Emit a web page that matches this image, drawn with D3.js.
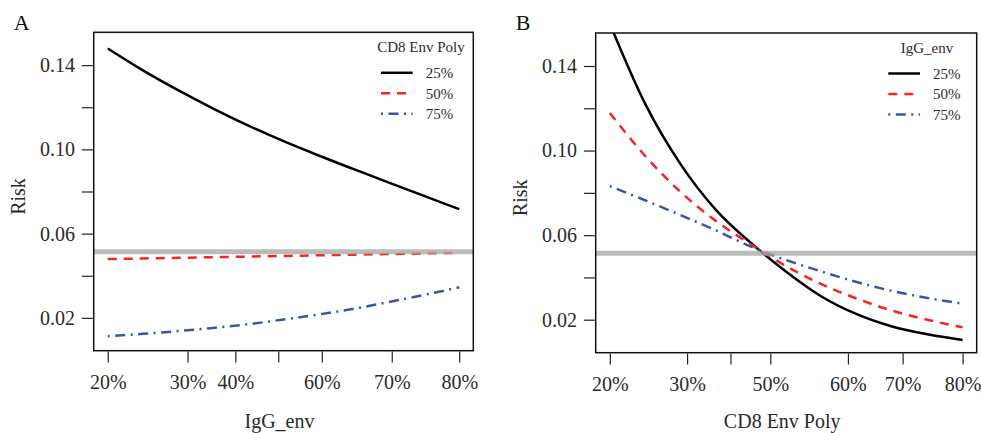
<!DOCTYPE html>
<html>
<head>
<meta charset="utf-8">
<script src="https://cdn.jsdelivr.net/npm/d3@7"></script>
<style>
  body { margin: 0; background: #fff; }
  svg { font-family: "Liberation Serif", "Times New Roman", serif; }
</style>
</head>
<body>
<svg id="chart" width="981" height="433"></svg>
<script>
// x positions on the (rescaled) marker scale, 0 = 20th pct, 1 = 80th pct
const xs = [0, 0.1, 0.2, 0.3, 0.4, 0.5, 0.6, 0.7, 0.8, 0.9, 1.0];

// panel A: risk vs IgG_env, one curve per CD8 Env Poly percentile
const riskA25 = [0.1479, 0.1375, 0.1281, 0.1194, 0.1113, 0.1039, 0.0971, 0.0906, 0.0842, 0.0779, 0.0716];
const riskA50 = [0.0479, 0.0482, 0.0485, 0.0488, 0.0491, 0.0494, 0.0497, 0.0500, 0.0503, 0.0506, 0.0509];
const riskA75 = [0.0113, 0.0124, 0.0137, 0.0152, 0.0170, 0.0192, 0.0216, 0.0243, 0.0275, 0.0309, 0.0345];

// panel B: risk vs CD8 Env Poly, one curve per IgG_env percentile
const riskB25 = [0.160, 0.1222, 0.0937, 0.0721, 0.0563, 0.0427, 0.0310, 0.0226, 0.0168, 0.0131, 0.0104];
const riskB50 = [0.1178, 0.0975, 0.0805, 0.0668, 0.0556, 0.0453, 0.0368, 0.0300, 0.0243, 0.0200, 0.0164];
const riskB75 = [0.0832, 0.0765, 0.0695, 0.0623, 0.0546, 0.0482, 0.0428, 0.0378, 0.0336, 0.0303, 0.0276];

const overallRisk = 0.0514;

// percentile ticks (blank label = dropped by overlap in the original)
const iggTickPos = [0, 0.227, 0.363, 0.485, 0.609, 0.808, 1.0];
const iggTickLabels = ["20%", "30%", "40%", "", "60%", "70%", "80%"];
const cd8TickPos = [0, 0.219, 0.342, 0.455, 0.675, 0.830, 1.0];
const cd8TickLabels = ["20%", "30%", "", "50%", "60%", "70%", "80%"];

const yTicks = [0.02, 0.04, 0.06, 0.08, 0.10, 0.12, 0.14];
const yTickLabels = ["0.02", "", "0.06", "", "0.10", "", "0.14"];

const legendLabels = ["25%", "50%", "75%"];
const seriesStyle = [
    { color: "#000000", dash: null },
    { color: "#f52525", dash: "9,7" },
    { color: "#3a55a8", dash: "2,5.5,10,5.5" }
];

const panels = [
    { letter: "A", left: 93.7, right: 473.3, top: 32.3, bottom: 350.7,
      xTitle: "IgG_env", legendTitle: "CD8 Env Poly",
      tickPos: iggTickPos, tickLabels: iggTickLabels,
      series: [riskA25, riskA50, riskA75],
      legOff: 92.3, titleOff: 52.3 },
    { letter: "B", left: 595.7, right: 976.7, top: 33, bottom: 352.7,
      xTitle: "CD8 Env Poly", legendTitle: "IgG_env",
      tickPos: cd8TickPos, tickLabels: cd8TickLabels,
      series: [riskB25, riskB50, riskB75],
      legOff: 88.4, titleOff: 49.7 }
];

const svg = d3.select("#chart");
const textColor = "#2a2a2a";

panels.forEach((p, pi) => {
    const g = svg.append("g");

    const x = d3.scaleLinear().domain([-0.04, 1.04]).range([p.left, p.right]);
    const y = d3.scaleLinear().domain([0.0044, 0.1556]).range([p.bottom, p.top]);

    const clipId = "clip" + pi;
    svg.append("clipPath").attr("id", clipId)
        .append("rect")
        .attr("x", p.left).attr("y", p.top)
        .attr("width", p.right - p.left).attr("height", p.bottom - p.top);

    // curves
    const line = d3.line()
        .x((d, i) => x(xs[i]))
        .y(d => y(d))
        .curve(d3.curveMonotoneX);

    const plot = g.append("g").attr("clip-path", `url(#${clipId})`);
    p.series.forEach((vals, si) => {
        plot.append("path")
            .datum(vals)
            .attr("d", line)
            .attr("fill", "none")
            .attr("stroke", seriesStyle[si].color)
            .attr("stroke-width", 2.5)
            .attr("stroke-dasharray", seriesStyle[si].dash);
    });

    // overall risk reference line, drawn over the curves
    plot.append("line")
        .attr("x1", p.left).attr("x2", p.right)
        .attr("y1", y(overallRisk)).attr("y2", y(overallRisk))
        .attr("stroke", "rgba(168,168,168,0.78)")
        .attr("stroke-width", 5);

    // box
    g.append("rect")
        .attr("x", p.left).attr("y", p.top)
        .attr("width", p.right - p.left).attr("height", p.bottom - p.top)
        .attr("fill", "none")
        .attr("stroke", "#111")
        .attr("stroke-width", 1.5);

    // axes
    const xAxis = d3.axisBottom(x)
        .tickValues(p.tickPos)
        .tickFormat((d, i) => p.tickLabels[i])
        .tickSize(11)
        .tickPadding(12);

    const yAxis = d3.axisLeft(y)
        .tickValues(yTicks)
        .tickFormat((d, i) => yTickLabels[i])
        .tickSize(11)
        .tickPadding(7);

    const xg = g.append("g")
        .attr("transform", `translate(0,${p.bottom + 0.8})`)
        .call(xAxis);
    const yg = g.append("g")
        .attr("transform", `translate(${p.left - 0.8},0)`)
        .call(yAxis);

    [xg, yg].forEach(ax => {
        ax.select(".domain").remove();
        ax.selectAll(".tick line").attr("stroke", "#222").attr("stroke-width", 1.2);
        ax.selectAll(".tick text")
            .attr("fill", textColor)
            .style("font-family", "Liberation Serif, serif")
            .style("font-size", "20px");
    });

    // axis titles
    g.append("text")
        .attr("x", (p.left + p.right) / 2 - 4)
        .attr("y", 428)
        .attr("text-anchor", "middle")
        .attr("fill", textColor)
        .style("font-size", "20px")
        .text(p.xTitle);

    g.append("text")
        .attr("transform", `translate(${p.left - 69},${(p.top + p.bottom) / 2 + 5}) rotate(-90)`)
        .attr("text-anchor", "middle")
        .attr("fill", textColor)
        .style("font-size", "20px")
        .text("Risk");

    // panel letter
    g.append("text")
        .attr("x", p.left - 80)
        .attr("y", 30)
        .attr("fill", "#111")
        .style("font-size", "22px")
        .text(p.letter);

    // legend
    const lx1 = p.right - p.legOff;
    const lx2 = lx1 + 31.7;
    const labelX = lx1 + 44.7;
    g.append("text")
        .attr("x", p.right - p.titleOff)
        .attr("y", p.top + 20)
        .attr("text-anchor", "middle")
        .attr("fill", textColor)
        .style("font-size", "15px")
        .text(p.legendTitle);

    legendLabels.forEach((lab, i) => {
        const ly = p.top + 40.5 + 20.5 * i;
        g.append("line")
            .attr("x1", lx1).attr("x2", lx2)
            .attr("y1", ly).attr("y2", ly)
            .attr("stroke", seriesStyle[i].color)
            .attr("stroke-width", 2.5)
            .attr("stroke-dasharray", seriesStyle[i].dash);
        g.append("text")
            .attr("x", labelX)
            .attr("y", ly)
            .attr("dy", "0.35em")
            .attr("fill", textColor)
            .style("font-size", "15px")
            .text(lab);
    });
});
</script>
</body>
</html>
